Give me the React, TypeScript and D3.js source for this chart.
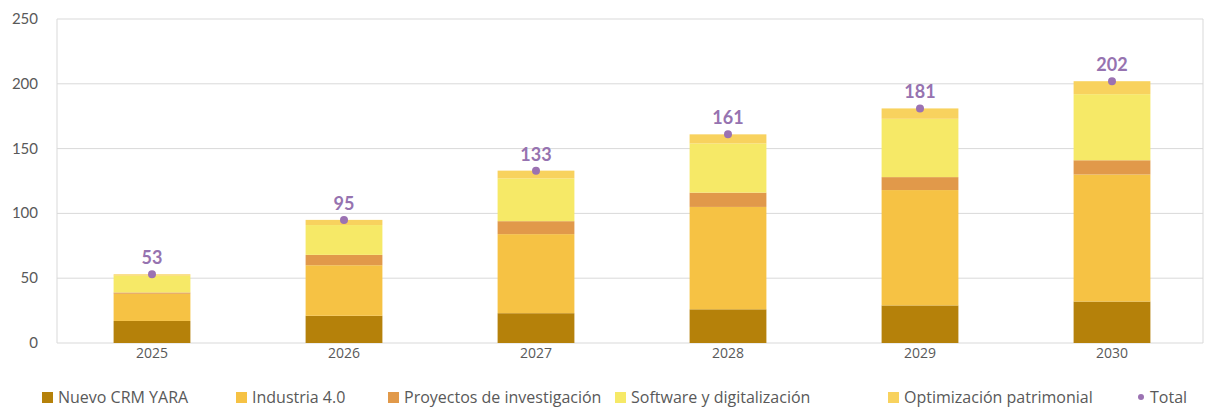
import React from "react";
import * as d3 from "d3";

const years = ["2025", "2026", "2027", "2028", "2029", "2030"];
const crm = [17, 21, 23, 26, 29, 32];
const industria = [21, 39, 61, 79, 89, 98];
const proyectos = [1, 8, 10, 11, 10, 11];
const software = [13, 23, 33, 38, 45, 51];
const optimizacion = [1, 4, 6, 7, 8, 10];
const totals = [53, 95, 133, 161, 181, 202];
const yTicks = [0, 50, 100, 150, 200, 250];

const seriesNames = [
  "Nuevo CRM YARA",
  "Industria 4.0",
  "Proyectos de investigación",
  "Software y digitalización",
  "Optimización patrimonial",
];
const seriesColors = ["#B5810A", "#F6C244", "#E1994A", "#F6E967", "#F8D25E"];
const seriesData = [crm, industria, proyectos, software, optimizacion];

const W = 1208;
const H = 407;
const left = 57;
const right = 1203;
const top = 19;
const bottom = 343;

export default function App() {
  const x = d3.scaleBand<string>().domain(years).range([left - 1, right + 5]).paddingInner(0.6).paddingOuter(0.3);
  const y = d3.scaleLinear().domain([0, 250]).range([bottom, top]);

  const rows = years.map((yr, i) => {
    const r: any = { year: yr };
    seriesNames.forEach((n, k) => (r[n] = seriesData[k][i]));
    return r;
  });
  const stacked = d3.stack<any>().keys(seriesNames)(rows);

  const font = "Lato, 'Open Sans', sans-serif";
  const legendFont = "'Open Sans', sans-serif";
  const legendX = [42, 236, 388, 615, 888];
  const textCol = "#595959";

  return (
    <svg width={W} height={H} style={{ position: "absolute", left: 0, top: 0 }}>
      <rect x={0} y={0} width={W} height={H} fill="#fff" />
      {yTicks.map((t) => (
        <g key={t}>
          <line x1={left} x2={right} y1={y(t)} y2={y(t)} stroke="#d9d9d9" strokeWidth={1} />
          <text x={38} y={y(t) + 5} textAnchor="end" fontSize={15} fill={textCol} fontFamily={font}>
            {t}
          </text>
        </g>
      ))}
      <line x1={left} x2={left} y1={top} y2={bottom} stroke="#d9d9d9" />
      <line x1={right} x2={right} y1={top} y2={bottom} stroke="#d9d9d9" />
      {stacked.map((s, k) => (
        <g key={k} fill={seriesColors[k]}>
          {s.map((d, i) => (
            <rect
              key={i}
              x={x(years[i])}
              width={x.bandwidth()}
              y={y(d[1])}
              height={Math.max(0, y(d[0]) - y(d[1]))}
            />
          ))}
        </g>
      ))}
      {years.map((yr, i) => (
        <g key={yr}>
          <circle cx={x(yr)! + x.bandwidth() / 2} cy={y(totals[i])} r={4} fill="#9B72B2" />
          <text
            x={x(yr)! + x.bandwidth() / 2}
            y={y(totals[i]) - 10}
            textAnchor="middle"
            fontSize={18}
            fontWeight="bold"
            fill="#9673B0"
            fontFamily={font}
          >
            {totals[i]}
          </text>
          <text
            x={x(yr)! + x.bandwidth() / 2}
            y={358}
            textAnchor="middle"
            fontSize={14}
            fill={textCol}
            fontFamily={legendFont}
          >
            {yr}
          </text>
        </g>
      ))}
      {seriesNames.map((n, k) => (
        <g key={n}>
          <rect x={legendX[k]} y={392} width={11} height={11} fill={seriesColors[k]} />
          <text x={legendX[k] + 16} y={403} fontSize={16} fill={textCol} fontFamily={legendFont}>
            {n}
          </text>
        </g>
      ))}
      <circle cx={1141} cy={397} r={3} fill="#9B72B2" />
      <text x={1150} y={403} fontSize={16} fill={textCol} fontFamily={legendFont}>
        Total
      </text>
    </svg>
  );
}
